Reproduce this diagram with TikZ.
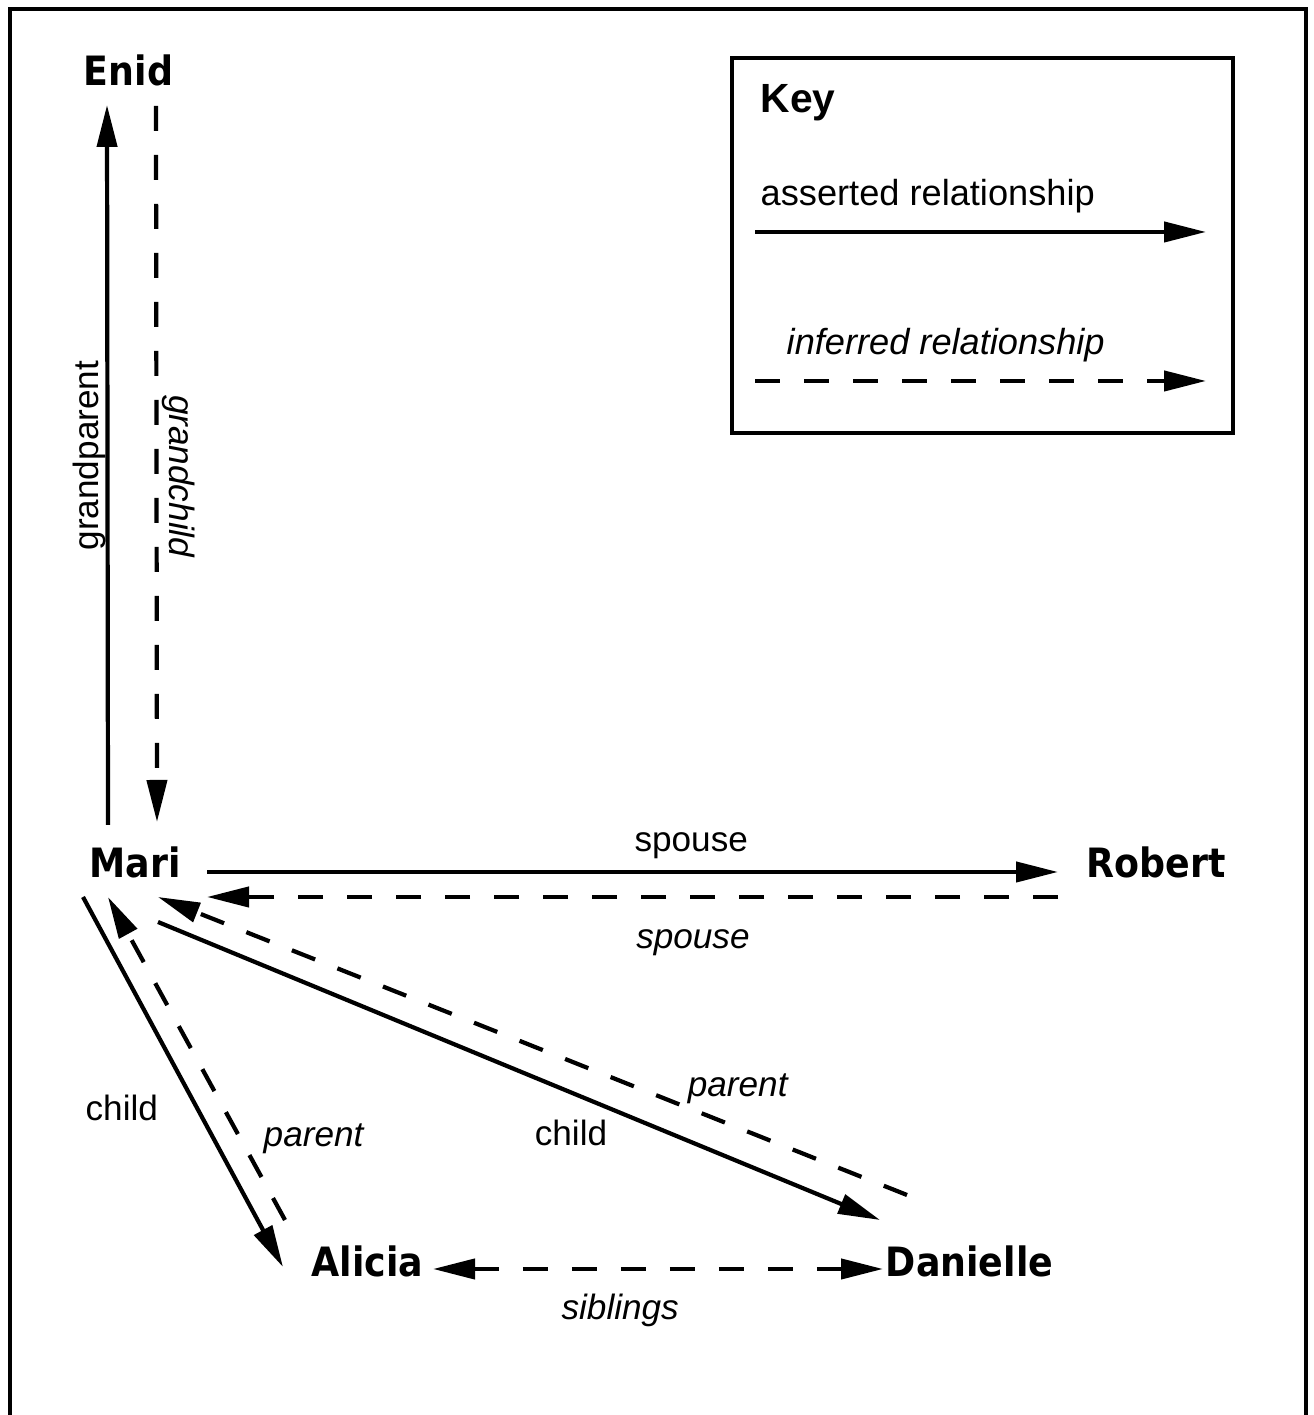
\documentclass[tikz,border=0pt]{standalone}
\usepackage{fontspec}
\setmainfont{Liberation Sans}
\newfontfamily\personfont{DejaVu Sans Condensed}
\usetikzlibrary{arrows.meta,calc}
\tikzset{
  person/.style={anchor=base, inner sep=0pt, font=\personfont\bfseries\fontsize{11.5}{14}\selectfont},
  asserted/.style={line width=1.2pt, ->},
  inferred/.style={asserted, dash pattern=on 2.5mm off 2.4mm},
  rellabel/.style={inner sep=0pt, font=\fontsize{10}{12}\selectfont},
  inferlabel/.style={inner sep=0pt, font=\fontsize{10}{12}\selectfont\itshape},
  keytext/.style={anchor=base west, inner sep=0pt, font=\fontsize{10.3}{12}\selectfont},
}

\begin{document}
\begin{tikzpicture}[>={Triangle[length=4.2mm,width=2mm]}]
\useasboundingbox (0,0) rectangle (13.14,14.15);
% frame, open at the bottom
\draw[line width=1.4pt] (0.10,0) |- (13.06,14.06) -- (13.06,0);

% people
\node[person] (Enid) at (1.285,13.29) {Enid};
\node[person] (Mari) at (1.35,5.37) {Mari};
\node[person] (Robert) at (11.56,5.37) {Robert};
\node[person] (Alicia) at (3.675,1.38) {Alicia};
\node[person] (Danielle) at (9.695,1.38) {Danielle};

% Mari and Enid
\draw[asserted] ([shift={(-0.27,0.53)}]Mari.base) -- ([shift={(-0.215,-0.19)}]Enid.base)
  node[rellabel, pos=0.513, xshift=-1.8mm, rotate=90] (gplabel) {grandparent};
\draw[inferred] ([shift={(0.275,-0.20)}]Enid.base) -- ([shift={(0.22,0.56)}]Mari.base)
  node[inferlabel, pos=0.517, xshift=2.2mm, rotate=-90] (gclabel) {grandchild};

% Mari and Robert
\draw[asserted] ([shift={(0.72,0.06)}]Mari.base) -- ([shift={(-0.98,0.06)}]Robert.base)
  node[rellabel, pos=0.569, yshift=2.6mm] (splabel) {spouse};
\draw[inferred] ([shift={(-0.98,-0.19)}]Robert.base) -- ([shift={(0.72,-0.19)}]Mari.base)
  node[inferlabel, pos=0.429, yshift=-4.6mm] (spilabel) {spouse};

% Mari and Alicia
\draw[asserted] ([shift={(-0.52,-0.19)}]Mari.base) -- ([shift={(-0.845,0.10)}]Alicia.base)
  node[rellabel, pos=0.569, xshift=-7.5mm] (calabel) {child};
\draw[inferred] ([shift={(-0.825,0.57)}]Alicia.base) -- ([shift={(-0.27,-0.19)}]Mari.base)
  node[inferlabel, pos=0.268, xshift=7.6mm, yshift=-0.5mm] (palabel) {parent};

% Mari and Danielle
\draw[asserted] ([shift={(0.23,-0.44)}]Mari.base) -- ([shift={(-0.895,0.57)}]Danielle.base)
  node[rellabel, pos=0.572, yshift=-4mm] (cdlabel) {child};
\draw[inferred] ([shift={(-0.625,0.82)}]Danielle.base) -- ([shift={(0.23,-0.19)}]Mari.base)
  node[inferlabel, pos=0.226, yshift=3.9mm] (pdlabel) {parent};

% Alicia and Danielle
\draw[inferred, <->] ([shift={(0.655,0.08)}]Alicia.base) -- ([shift={(-0.865,0.08)}]Danielle.base)
  node[inferlabel, pos=0.416, yshift=-4.1mm] (siblabel) {siblings};

% key
\draw[line width=1pt] (7.32,13.57) rectangle (12.33,9.82);
\node[keytext, font=\bfseries\fontsize{11.6}{13}\selectfont] (keytitle) at (7.60,13.02) {Key};
\node[keytext] (assertedtext) at (7.60,12.09) {asserted relationship};
\coordinate (assertedfrom) at (7.55,11.83);
\coordinate (assertedto) at (12.06,11.83);
\draw[asserted] (assertedfrom) -- (assertedto);
\node[keytext, font=\fontsize{10.3}{12}\selectfont\itshape] (inferredtext) at (7.86,10.60) {inferred relationship};
\coordinate (inferredfrom) at (7.55,10.34);
\coordinate (inferredto) at (12.06,10.34);
\draw[inferred] (inferredfrom) -- (inferredto);
\end{tikzpicture}
\end{document}
